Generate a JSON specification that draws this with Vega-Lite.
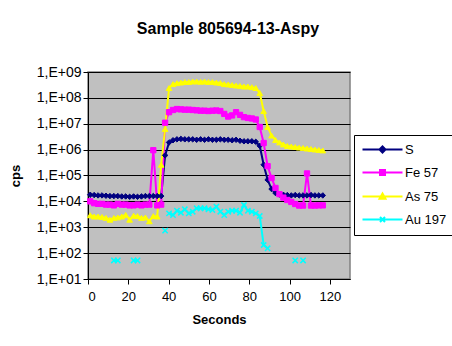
{
  "$schema": "https://vega.github.io/schema/vega-lite/v6.json",
  "width": 262,
  "height": 207,
  "autosize": {"type": "none"},
  "padding": {"left": 88, "top": 72, "right": 102, "bottom": 67},
  "background": "white",
  "title": {"text": "Sample 805694-13-Aspy", "font": "Liberation Sans", "fontSize": 16, "fontWeight": "bold", "color": "black", "anchor": "middle", "frame": "group", "dx": 9, "offset": 28},
  "config": {
    "view": {"fill": "#C0C0C0", "stroke": "#808080", "strokeWidth": 1.5},
    "axis": {"labelFont": "Liberation Sans", "labelFontSize": 13, "labelColor": "black", "titleFont": "Liberation Sans", "titleFontSize": 13, "titleFontWeight": "bold", "titleColor": "black", "domainColor": "black", "tickColor": "black", "tickSize": 5, "domainWidth": 1, "tickWidth": 1, "labelPadding": 2}
  },
  "data": {"values": [
    {"t": 1.1, "S": 18000, "Fe 57": 10000, "As 75": 2900, "Au 197": null},
    {"t": 3.06, "S": 17500, "Fe 57": 8500, "As 75": 2600, "Au 197": null},
    {"t": 5.01, "S": 17000, "Fe 57": 8000, "As 75": 2600, "Au 197": null},
    {"t": 6.97, "S": 17000, "Fe 57": 8000, "As 75": 2500, "Au 197": null},
    {"t": 8.92, "S": 16500, "Fe 57": 7500, "As 75": 2300, "Au 197": null},
    {"t": 10.88, "S": 16000, "Fe 57": 7500, "As 75": 1950, "Au 197": null},
    {"t": 12.84, "S": 16000, "Fe 57": 7000, "As 75": 2300, "Au 197": 52},
    {"t": 14.79, "S": 16000, "Fe 57": 8000, "As 75": 2400, "Au 197": 52},
    {"t": 16.75, "S": 15500, "Fe 57": 7500, "As 75": 2600, "Au 197": null},
    {"t": 18.7, "S": 15500, "Fe 57": 7500, "As 75": 3000, "Au 197": null},
    {"t": 20.66, "S": 15000, "Fe 57": 7000, "As 75": 1950, "Au 197": null},
    {"t": 22.62, "S": 15500, "Fe 57": 7000, "As 75": 2800, "Au 197": 52},
    {"t": 24.57, "S": 15000, "Fe 57": 7500, "As 75": 2700, "Au 197": 52},
    {"t": 26.53, "S": 15500, "Fe 57": 7000, "As 75": 2300, "Au 197": null},
    {"t": 28.48, "S": 16000, "Fe 57": 7500, "As 75": 2400, "Au 197": null},
    {"t": 30.44, "S": 16000, "Fe 57": 7500, "As 75": 1700, "Au 197": null},
    {"t": 32.4, "S": 16000, "Fe 57": 950000, "As 75": 2700, "Au 197": null},
    {"t": 34.35, "S": 16000, "Fe 57": 7000, "As 75": 2600, "Au 197": null},
    {"t": 36.31, "S": 16000, "Fe 57": 7500, "As 75": 260000, "Au 197": null},
    {"t": 38.26, "S": 600000, "Fe 57": 11000000, "As 75": 6300000, "Au 197": 736},
    {"t": 39.24, "Au 197": null},
    {"t": 40.22, "S": 1900000, "Fe 57": 28000000, "As 75": 240000000, "Au 197": 3460},
    {"t": 42.18, "S": 2300000, "Fe 57": 34000000, "As 75": 340000000, "Au 197": 2970},
    {"t": 44.13, "S": 2500000, "Fe 57": 37000000, "As 75": 370000000, "Au 197": 4360},
    {"t": 46.09, "S": 2600000, "Fe 57": 36000000, "As 75": 390000000, "Au 197": 3650},
    {"t": 48.04, "S": 2500000, "Fe 57": 35000000, "As 75": 410000000, "Au 197": 4940},
    {"t": 50.0, "S": 2500000, "Fe 57": 35000000, "As 75": 410000000, "Au 197": 3460},
    {"t": 51.96, "S": 2500000, "Fe 57": 34000000, "As 75": 430000000, "Au 197": 3990},
    {"t": 53.91, "S": 2400000, "Fe 57": 33000000, "As 75": 430000000, "Au 197": 5400},
    {"t": 55.87, "S": 2500000, "Fe 57": 32000000, "As 75": 420000000, "Au 197": 5400},
    {"t": 57.82, "S": 2400000, "Fe 57": 32000000, "As 75": 430000000, "Au 197": 5400},
    {"t": 59.78, "S": 2500000, "Fe 57": 31000000, "As 75": 410000000, "Au 197": 4940},
    {"t": 61.74, "S": 2400000, "Fe 57": 32000000, "As 75": 410000000, "Au 197": 4650},
    {"t": 63.69, "S": 2400000, "Fe 57": 32500000, "As 75": 390000000, "Au 197": 6220},
    {"t": 65.65, "S": 2500000, "Fe 57": 31000000, "As 75": 376000000, "Au 197": 3990},
    {"t": 67.6, "S": 2400000, "Fe 57": 24000000, "As 75": 340000000, "Au 197": 2970},
    {"t": 69.56, "S": 2400000, "Fe 57": 19000000, "As 75": 330000000, "Au 197": 3990},
    {"t": 71.52, "S": 2300000, "Fe 57": 21000000, "As 75": 315000000, "Au 197": 4360},
    {"t": 73.47, "S": 2400000, "Fe 57": 28000000, "As 75": 300000000, "Au 197": 4360},
    {"t": 75.43, "S": 2200000, "Fe 57": 22000000, "As 75": 290000000, "Au 197": 3650},
    {"t": 77.38, "S": 2100000, "Fe 57": 18000000, "As 75": 275000000, "Au 197": 7240},
    {"t": 79.34, "S": 2100000, "Fe 57": 16700000, "As 75": 275000000, "Au 197": 4360},
    {"t": 81.3, "S": 2100000, "Fe 57": 16000000, "As 75": 260000000, "Au 197": 3990},
    {"t": 83.25, "S": 2000000, "Fe 57": 14600000, "As 75": 240000000, "Au 197": 3460},
    {"t": 85.21, "S": 1400000, "Fe 57": 7500000, "As 75": 154000000, "Au 197": 2720},
    {"t": 87.16, "S": 260000, "Fe 57": 1800000, "As 75": 31000000, "Au 197": 206},
    {"t": 89.12, "S": 68000, "Fe 57": 230000, "As 75": 7500000, "Au 197": 154},
    {"t": 91.08, "S": 30000, "Fe 57": 80000, "As 75": 3500000, "Au 197": null},
    {"t": 93.03, "S": 21000, "Fe 57": 33000, "As 75": 2350000, "Au 197": null},
    {"t": 94.99, "S": 18500, "Fe 57": 19000, "As 75": 1900000, "Au 197": null},
    {"t": 96.94, "S": 18000, "Fe 57": 14000, "As 75": 1580000, "Au 197": null},
    {"t": 98.9, "S": 17500, "Fe 57": 11300, "As 75": 1380000, "Au 197": null},
    {"t": 100.86, "S": 17000, "Fe 57": 9500, "As 75": 1320000, "Au 197": null},
    {"t": 102.81, "S": 17500, "Fe 57": 7900, "As 75": 1260000, "Au 197": 52},
    {"t": 104.77, "S": 17000, "Fe 57": 6900, "As 75": 1200000, "Au 197": null},
    {"t": 106.72, "S": 17000, "Fe 57": 6900, "As 75": 1160000, "Au 197": 52},
    {"t": 108.68, "S": 17000, "Fe 57": 120000, "As 75": 1100000, "Au 197": null},
    {"t": 110.64, "S": 17500, "Fe 57": 6900, "As 75": 1060000, "Au 197": null},
    {"t": 112.59, "S": 17000, "Fe 57": 6900, "As 75": 1010000, "Au 197": null},
    {"t": 114.55, "S": 17000, "Fe 57": 7000, "As 75": 970000, "Au 197": null},
    {"t": 116.5, "S": 17000, "Fe 57": 7000, "As 75": 930000, "Au 197": null}
  ]},
  "transform": [
    {"fold": ["S", "Fe 57", "As 75", "Au 197"], "as": ["series", "cps"]},
    {"filter": "datum.series === 'Au 197' || datum.cps != null"}
  ],
  "encoding": {
    "x": {"field": "t", "type": "quantitative", "scale": {"domain": [0, 130], "nice": false, "zero": false},
      "axis": {"values": [0, 20, 40, 60, 80, 100, 120], "grid": false, "title": "Seconds", "labelPadding": 6, "titlePadding": 10}},
    "y": {"field": "cps", "type": "quantitative", "scale": {"type": "log", "domain": [10, 1000000000], "nice": false},
      "axis": {"values": [10, 100, 1000, 10000, 100000, 1000000, 10000000, 100000000, 1000000000],
        "labelExpr": "'1,E+0' + format(log(datum.value)/LN10, '.0f')", "labelFontSize": 14,
        "grid": true, "gridColor": "black", "gridOpacity": 1, "gridWidth": 1,
        "title": "cps", "titleX": -73, "titleY": 103.5, "titleAngle": 270, "titleAlign": "center", "titleBaseline": "middle"}}
  },
  "layer": [
    {
      "mark": {"type": "line", "strokeWidth": 2, "invalid": "break-paths-filter-domains"},
      "encoding": {
        "color": {"field": "series", "type": "nominal",
          "scale": {"domain": ["S", "Fe 57", "As 75", "Au 197"], "range": ["#000080", "#FF00FF", "#FFFF00", "#00FFFF"]},
          "legend": {"title": null, "orient": "none", "legendX": 266, "legendY": 63, "padding": 8,
            "strokeColor": "black", "fillColor": "white",
            "labelFont": "Liberation Sans", "labelFontSize": 13, "labelColor": "black",
            "symbolSize": 100, "symbolStrokeWidth": 2, "symbolOffset": 14, "labelOffset": 16, "rowPadding": 9,
            "encode": {"symbols": {"update": {
              "shape": {"signal": "datum.value === 'S' ? 'M-4,0H4M-0.6,0L0,-0.6L0.6,0L0,0.6Z' : datum.value === 'Fe 57' ? 'M-4,0H4M-0.5,-0.5H0.5V0.5H-0.5Z' : datum.value === 'As 75' ? 'M-4,0H4M0,-0.6L0.6,0.45H-0.6Z' : 'M-4,0H4M-0.5,-0.5L0.5,0.5M-0.5,0.5L0.5,-0.5'"},
              "fill": {"signal": "datum.value === 'S' ? '#000080' : datum.value === 'Fe 57' ? '#FF00FF' : datum.value === 'As 75' ? '#FFFF00' : '#00FFFF'"}
            }}}}
        }
      }
    },
    {
      "transform": [{"filter": "datum.series === 'S'"}],
      "mark": {"type": "point", "shape": "diamond", "size": 30, "filled": true, "fill": "#000080", "stroke": "#000080", "strokeWidth": 1, "opacity": 1}
    },
    {
      "transform": [{"filter": "datum.series === 'Fe 57'"}],
      "mark": {"type": "point", "shape": "square", "size": 28, "filled": true, "fill": "#FF00FF", "stroke": "#FF00FF", "strokeWidth": 1, "opacity": 1}
    },
    {
      "transform": [{"filter": "datum.series === 'As 75'"}],
      "mark": {"type": "point", "shape": "triangle-up", "size": 32, "filled": true, "fill": "#FFFF00", "stroke": "#FFFF00", "strokeWidth": 1, "opacity": 1}
    },
    {
      "transform": [{"filter": "datum.series === 'Au 197'"}],
      "mark": {"type": "point", "shape": "M-1,-1L1,1M-1,1L1,-1", "size": 28, "filled": false, "stroke": "#00FFFF", "strokeWidth": 1.5, "opacity": 1}
    }
  ]
}
